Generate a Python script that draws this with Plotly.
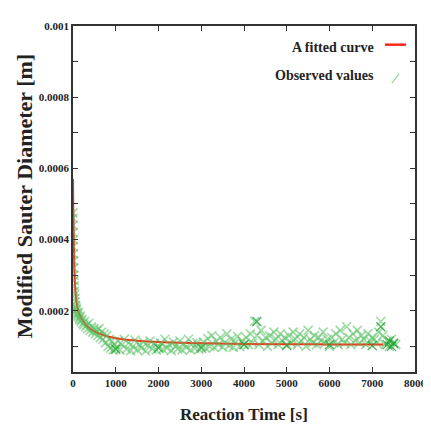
import plotly.graph_objects as go

# ---- data (diameters in units of 1e-4 m, converted below) ----
fit_time = [0, 5, 10, 20, 30, 40, 50, 75, 100, 150, 200, 300, 400, 500, 700,
            1000, 1500, 2000, 3000, 4000, 5000, 6000, 7000, 7250]
fit_d_e4 = [5.7, 5.1, 4.6, 3.8, 3.25, 2.9, 2.65, 2.3, 2.1, 1.9, 1.78, 1.6, 1.5, 1.42, 1.32,
            1.23, 1.16, 1.12, 1.09, 1.07, 1.06, 1.055, 1.05, 1.05]

obs_time = [0, 2, 4, 6, 8, 10, 12, 15, 18, 22, 26, 30, 35, 40, 46, 52, 60, 68,
            76, 85, 95, 105, 118, 130, 145, 160, 175, 190, 210, 230, 250, 270,
            295, 320, 345, 370, 400, 430, 460, 490, 520, 550, 580, 610, 640, 670,
            700, 730, 760, 790, 820, 850, 880, 910, 940, 970,
            1000, 1050, 1100, 1150, 1200, 1250, 1300, 1350, 1400, 1450, 1500,
            1550, 1600, 1650, 1700, 1750, 1800, 1850, 1900, 1950, 2000,
            2050, 2100, 2150, 2200, 2250, 2300, 2350, 2400, 2450, 2500,
            2550, 2600, 2650, 2700, 2750, 2800, 2850, 2900, 2950, 3000,
            3050, 3100, 3150, 3200, 3250, 3300, 3350, 3400, 3450, 3500,
            3550, 3600, 3650, 3700, 3750, 3800, 3850, 3900, 3950, 4000,
            4050, 4100, 4150, 4200, 4250, 4300, 4350, 4400, 4450, 4500,
            4550, 4600, 4650, 4700, 4750, 4800, 4850, 4900, 4950, 5000,
            5050, 5100, 5150, 5200, 5250, 5300, 5350, 5400, 5450, 5500,
            5550, 5600, 5650, 5700, 5750, 5800, 5850, 5900, 5950, 6000,
            6050, 6100, 6150, 6200, 6250, 6300, 6350, 6400, 6450, 6500,
            6550, 6600, 6650, 6700, 6750, 6800, 6850, 6900, 6950, 7000,
            7050, 7100, 7150, 7200, 7250, 7300, 7350, 7400, 7450, 7500, 7550]
obs_d_e4 = [4.75, 4.6, 4.4, 4.2, 4.0, 3.8, 3.6, 3.4, 3.2, 3.0, 2.85, 2.7, 2.55, 2.45, 2.35, 2.25, 2.15, 2.1,
            2.0, 2.05, 1.95, 1.9, 1.85, 1.95, 1.8, 1.75, 1.85, 1.7, 1.75, 1.65, 1.6, 1.7,
            1.55, 1.6, 1.5, 1.65, 1.45, 1.55, 1.4, 1.5, 1.35, 1.45, 1.3, 1.5, 1.25, 1.4,
            1.2, 1.35, 1.1, 1.3, 1.0, 1.2, 0.95, 1.15, 0.9, 1.05,
            0.95, 1.15, 0.9, 1.05, 1.2, 0.92, 1.1, 0.88, 1.0, 1.18, 0.9,
            1.05, 0.95, 1.12, 0.87, 1.02, 1.15, 0.93, 1.08, 0.9, 1.0,
            1.1, 0.92, 1.2, 0.95, 1.05, 0.88, 1.12, 1.0, 0.93, 1.15,
            0.9, 1.05, 0.97, 1.2, 0.9, 1.08, 0.95, 1.1, 0.92, 1.0,
            1.12, 0.95, 1.22, 1.0, 1.3, 0.97, 1.15, 1.05, 1.25, 0.98,
            1.1, 1.35, 1.02, 1.2, 0.97, 1.12, 1.28, 1.0, 1.15, 1.05,
            1.25, 1.05, 1.35, 1.1, 1.7, 1.3, 1.05, 1.45, 1.15, 1.25,
            1.0, 1.3, 1.1, 1.4, 1.2, 1.05, 1.35, 1.15, 1.25, 1.05,
            1.3, 1.1, 1.4, 1.2, 1.05, 1.35, 1.15, 1.25, 1.0, 1.45,
            1.2, 1.1, 1.3, 1.05, 1.25, 1.15, 1.4, 1.1, 1.2, 1.0,
            1.25, 1.1, 1.35, 1.05, 1.45, 1.2, 1.1, 1.55, 1.25, 1.05,
            1.35, 1.15, 1.45, 1.1, 1.3, 1.2, 1.05, 1.35, 1.15, 1.25,
            1.2, 1.1, 1.4, 1.7, 1.3, 1.05, 1.15, 1.0, 1.2, 1.1, 1.05]

dark_time = [1000, 2000, 3000, 4000, 4300, 5000, 6000, 7000, 7200, 7350, 7400, 7450, 7500]
dark_d_e4 = [0.92, 0.95, 0.95, 1.05, 1.7, 1.02, 1.05, 1.02, 1.55, 1.05, 1.15, 1.0, 1.08]

y_tickvals = [0.0001, 0.0002, 0.0003, 0.0004, 0.0005, 0.0006, 0.0007, 0.0008, 0.0009, 0.001]
y_ticktext = ["", "0.0002", "", "0.0004", "", "0.0006", "", "0.0008", "", "0.001"]
x_tickvals = [0, 1000, 2000, 3000, 4000, 5000, 6000, 7000, 8000]

fit_d = [v * 1e-4 for v in fit_d_e4]
obs_d = [v * 1e-4 for v in obs_d_e4]
dark_d = [v * 1e-4 for v in dark_d_e4]

SERIF = "Liberation Serif, Times New Roman, serif"
LIGHT_GREEN = "rgba(95,195,105,0.6)"
DARK_GREEN = "rgba(35,160,50,0.8)"

fig = go.Figure()
fig.add_trace(go.Scatter(x=fit_time, y=fit_d, mode="lines", name="A fitted curve",
                         line=dict(color="#ff2a1a", width=2, shape="spline"),
                         showlegend=False))
fig.add_trace(go.Scatter(x=obs_time, y=obs_d, mode="markers", name="Observed values",
                         marker=dict(symbol="x-thin-open", size=9, color=LIGHT_GREEN,
                                     line=dict(color=LIGHT_GREEN, width=1.6)),
                         showlegend=False))
fig.add_trace(go.Scatter(x=dark_time, y=dark_d, mode="markers",
                         marker=dict(symbol="x-thin-open", size=9, color=DARK_GREEN,
                                     line=dict(color=DARK_GREEN, width=1.3)),
                         showlegend=False))
# fitted curve drawn again faintly on top so it shows through the markers
fig.add_trace(go.Scatter(x=fit_time, y=fit_d, mode="lines",
                         line=dict(color="rgba(230,60,20,0.45)", width=1.5, shape="spline"),
                         showlegend=False, hoverinfo="skip"))

axis_common = dict(showgrid=False, zeroline=False, showline=True, linecolor="#333",
                   linewidth=1.5, mirror="ticks", ticks="inside", ticklen=5,
                   tickwidth=1, tickcolor="#333",
                   tickfont=dict(family=SERIF, size=11, color="#222", weight="bold"))

fig.update_layout(
    width=431, height=426,
    margin=dict(l=65, r=15, t=14, b=62),
    paper_bgcolor="white", plot_bgcolor="white",
    showlegend=False,
    xaxis=dict(range=[0, 8000], tickvals=x_tickvals, **axis_common),
    yaxis=dict(range=[0.000028, 0.001], tickvals=y_tickvals, ticktext=y_ticktext,
               **axis_common),
)

fig.add_annotation(text="Reaction Time [s]", xref="paper", yref="paper", x=0.5, y=-0.124,
                   xanchor="center", yanchor="middle", showarrow=False,
                   font=dict(family=SERIF, size=17, color="#222", weight="bold"))
fig.add_annotation(text="Modified Sauter Diameter [m]", xref="paper", yref="paper",
                   x=-0.142, y=0.509, xanchor="center", yanchor="middle", textangle=-90,
                   showarrow=False,
                   font=dict(family=SERIF, size=22, color="#222", weight="bold"))

# legend (gnuplot style: text right aligned, sample on the right)
fig.add_annotation(text="A fitted curve", xref="paper", yref="paper", x=0.886, y=0.937,
                   xanchor="right", yanchor="middle", showarrow=False,
                   font=dict(family=SERIF, size=14, color="#222", weight="bold"))
fig.add_annotation(text="Observed values", xref="paper", yref="paper", x=0.886, y=0.857,
                   xanchor="right", yanchor="middle", showarrow=False,
                   font=dict(family=SERIF, size=14, color="#222", weight="bold"))
fig.add_shape(type="line", xref="paper", yref="paper", x0=0.912, x1=0.974, y0=0.946, y1=0.946,
              line=dict(color="#ff2a1a", width=2.5))
fig.add_shape(type="line", xref="paper", yref="paper", x0=0.932, x1=0.954, y0=0.834, y1=0.863,
              line=dict(color="rgba(110,200,110,0.7)", width=1.2))

fig.write_html("out.html")
